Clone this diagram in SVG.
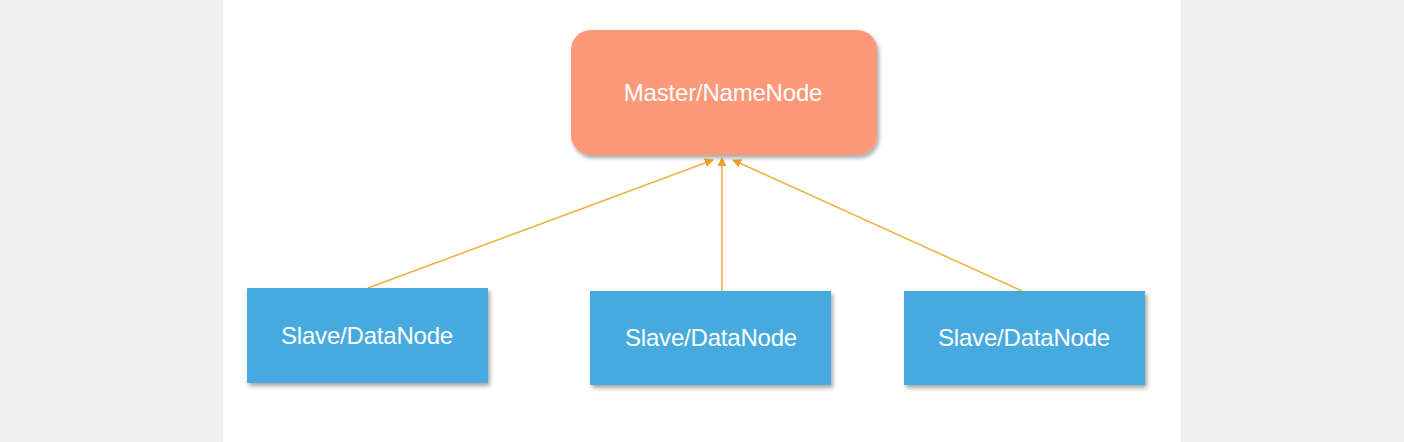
<svg xmlns="http://www.w3.org/2000/svg" width="1404" height="442" viewBox="0 0 1404 442">
<style>
.lbl{font-family:"Liberation Sans",Arial,sans-serif;font-size:24px;fill:#ffffff;text-anchor:middle;letter-spacing:-0.2px}
.slave{fill:#47aadf}
.master{fill:#fd9878}
.conn{stroke:#f0b245;stroke-width:1.6;fill:none}
</style>
<defs>
<filter id="sh" x="-10%" y="-10%" width="125%" height="130%">
<feGaussianBlur in="SourceAlpha" stdDeviation="2"/>
<feOffset dx="2" dy="3"/>
<feComponentTransfer><feFuncA type="linear" slope="0.35"/></feComponentTransfer>
<feMerge><feMergeNode/><feMergeNode in="SourceGraphic"/></feMerge>
</filter>
<marker id="arr" viewBox="0 0 10 10" refX="9" refY="5" markerWidth="9" markerHeight="9" markerUnits="userSpaceOnUse" orient="auto">
<path d="M0,0 L10,5 L0,10 z" fill="#eea22a"/>
</marker>
</defs>
<rect width="1404" height="442" fill="#f0f0f0"/>
<rect x="223" y="0" width="958" height="442" fill="#ffffff"/>
<g id="connectors">
<line class="conn" x1="368" y1="288" x2="713" y2="160" marker-end="url(#arr)"/>
<line class="conn" x1="722" y1="291" x2="722" y2="158" marker-end="url(#arr)"/>
<line class="conn" x1="1022" y1="291" x2="733" y2="160" marker-end="url(#arr)"/>
</g>
<g id="master">
<rect class="master" x="571" y="30" width="306" height="125" rx="20" ry="20" filter="url(#sh)"/>
<text class="lbl" x="723" y="101">Master/NameNode</text>
</g>
<g id="slave1">
<rect class="slave" x="247" y="288" width="241" height="95" filter="url(#sh)"/>
<text class="lbl" x="367" y="344">Slave/DataNode</text>
</g>
<g id="slave2">
<rect class="slave" x="590" y="291" width="241" height="94" filter="url(#sh)"/>
<text class="lbl" x="711" y="346">Slave/DataNode</text>
</g>
<g id="slave3">
<rect class="slave" x="904" y="291" width="241" height="94" filter="url(#sh)"/>
<text class="lbl" x="1024" y="346">Slave/DataNode</text>
</g>
</svg>
